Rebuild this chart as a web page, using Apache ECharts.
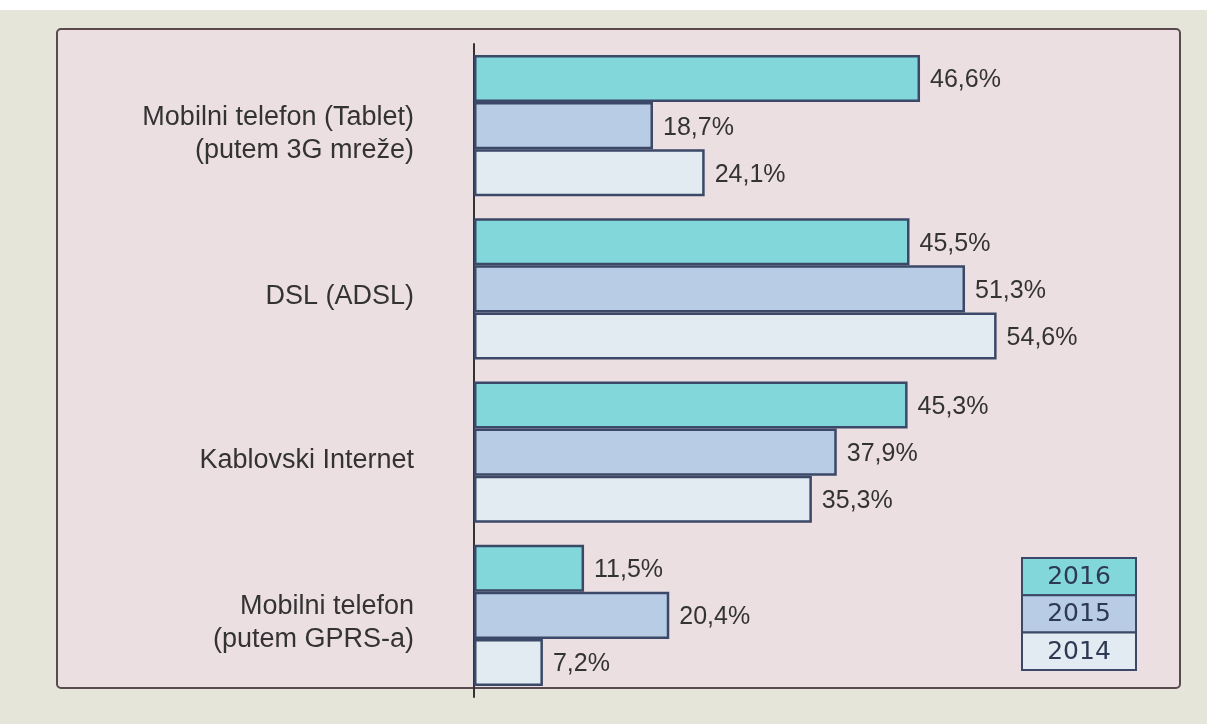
<!DOCTYPE html>
<html>
<head>
<meta charset="utf-8">
<script src="https://cdn.jsdelivr.net/npm/echarts@6/dist/echarts.min.js"></script>
<style>
html,body{margin:0;padding:0;background:#e5e5d9;}
#chart{width:1207px;height:724px;}
</style>
</head>
<body>
<div id="chart"></div>
<script>
const categories = ['Mobilni telefon (Tablet)\n(putem 3G mreže)', 'DSL (ADSL)', 'Kablovski Internet', 'Mobilni telefon\n(putem GPRS-a)'];
const years = ['2016', '2015', '2014'];
const values2016 = [46.6, 45.5, 45.3, 11.5];
const values2015 = [18.7, 51.3, 37.9, 20.4];
const values2014 = [24.1, 54.6, 35.3, 7.2];
const seriesValues = [values2016, values2015, values2014];
const colors = ['#82d7da', '#b8cde5', '#e2ebf1'];
const borderCol = '#3b4867';

const chart = echarts.init(document.getElementById('chart'));

const legendGraphics = [];
const lx = 1022, ly = 558, lw = 114, lh = 37.3;
years.forEach((y, i) => {
  legendGraphics.push({
    type: 'rect',
    shape: { x: lx, y: ly + i * lh, width: lw, height: lh },
    style: { fill: colors[i], stroke: borderCol, lineWidth: 2 },
    z: 10
  });
  legendGraphics.push({
    type: 'text',
    x: lx + lw / 2, y: ly + i * lh + lh / 2 + 1,
    style: { text: y, fill: '#2e3a55', font: '25px "DejaVu Sans", Verdana, sans-serif', align: 'center', verticalAlign: 'middle' },
    z: 11
  });
});

const option = {
  backgroundColor: 'transparent',
  animation: false,
  graphic: [
    { type: 'rect', shape: { x: 0, y: 0, width: 1207, height: 10 }, style: { fill: '#ffffff' }, z: -10 },
    { type: 'rect', shape: { x: 57, y: 29, width: 1123, height: 659, r: 4 }, style: { fill: '#ecdfe2', stroke: '#5a4a50', lineWidth: 2 }, z: -5 }
  ].concat(legendGraphics),
  grid: { left: 474, right: 63, top: 44, bottom: 27, containLabel: false },
  xAxis: {
    type: 'value', min: 0, max: 70,
    show: false
  },
  yAxis: {
    type: 'category',
    data: categories,
    inverse: true,
    axisLine: { show: true, lineStyle: { color: '#333', width: 2 } },
    axisTick: { show: false },
    axisLabel: {
      margin: 60,
      color: '#333',
      fontSize: 27,
      lineHeight: 33,
      align: 'right',
      fontFamily: '"Liberation Sans", Arial, sans-serif',
      formatter: v => '{s| }\n' + v,
      rich: { s: { fontSize: 10, lineHeight: 16, height: 16 } }
    }
  },
  series: years.map((y, i) => ({
    name: y,
    type: 'bar',
    data: seriesValues[i],
    barGap: '0%',
    barCategoryGap: '13.5%',
    itemStyle: { color: colors[i], borderColor: borderCol, borderWidth: 2.5 },
    label: {
      show: true,
      position: 'right',
      distance: 10,
      offset: [0, 2],
      color: '#333',
      fontSize: 25,
      fontFamily: '"Liberation Sans", Arial, sans-serif',
      formatter: p => p.value.toFixed(1).replace('.', ',') + '%'
    }
  }))
};
chart.setOption(option);
</script>
</body>
</html>
